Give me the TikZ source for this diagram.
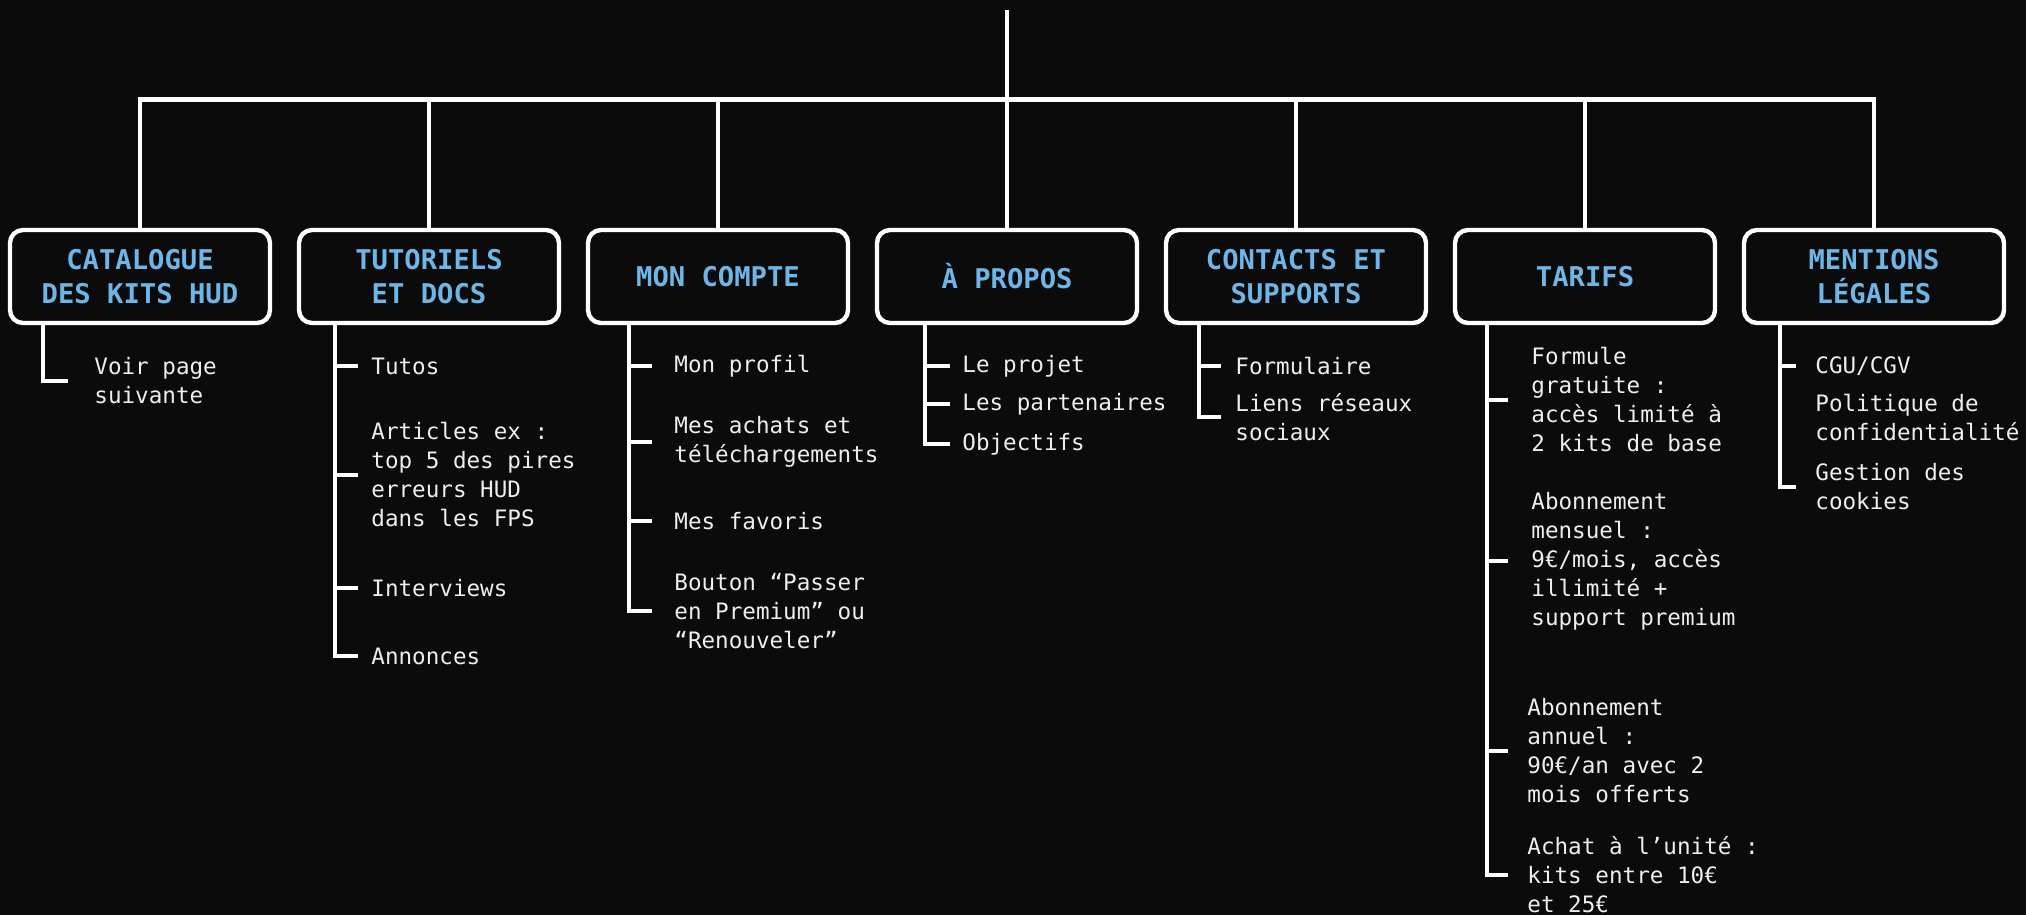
\documentclass[tikz,border=0pt]{standalone}
\usepackage{fontspec}
\setmonofont{DejaVu Sans Mono}
\usepackage{tikz}
\usetikzlibrary{positioning, calc}
\definecolor{bgdark}{RGB}{11,11,11}
\definecolor{headblue}{RGB}{110,182,232}
\definecolor{leafwhite}{RGB}{238,238,238}
\tikzstyle{head} = [draw=white, line width=2.2pt, rounded corners=6.5pt, fill=bgdark, minimum width=130pt, minimum height=46.5pt, align=center, text=headblue, font=\ttfamily\bfseries\fontsize{13.6}{17}\selectfont]
\tikzstyle{leaf} = [anchor=west, align=left, inner xsep=7pt, inner ysep=0pt, text=leafwhite, font=\ttfamily\fontsize{11.3}{14.5}\selectfont]
\tikzstyle{link} = [draw=white, line width=2.4pt]

\begin{document}
\begin{tikzpicture}[x=0.5pt, y=-0.5pt]
	\useasboundingbox (0,0) rectangle (2026,915);
	\fill[bgdark] (0,0) rectangle (2026,915);

	\coordinate (top)     at (1007, 10);
	\coordinate (bar)     at (1007, 99.5);
	\coordinate (cat-t)   at (43,   323);
	\coordinate (tut-t)   at (335,  323);
	\coordinate (cpt-t)   at (629,  323);
	\coordinate (apr-t)   at (925,  323);
	\coordinate (con-t)   at (1199, 323);
	\coordinate (tar-t)   at (1487, 323);
	\coordinate (leg-t)   at (1780, 323);

	% menu
	\node[head] (cat) at (140,  276.5) {CATALOGUE\\DES KITS HUD};
	\node[head] (tut) at (429,  276.5) {TUTORIELS\\ET DOCS};
	\node[head] (cpt) at (718,  276.5) {MON COMPTE};
	\node[head] (apr) at (1007, 276.5) {À PROPOS};
	\node[head] (con) at (1296, 276.5) {CONTACTS ET\\SUPPORTS};
	\node[head] (tar) at (1585, 276.5) {TARIFS};
	\node[head] (leg) at (1874, 276.5) {MENTIONS\\LÉGALES};

	\draw[link] (top) -- (bar);
	\draw[link] (cat.north) -- (cat.north |- bar) -- (leg.north |- bar) -- (leg.north);
	\foreach \n in {tut, cpt, apr, con, tar}
		\draw[link] (\n.north) -- (\n.north |- bar);

	% sous-pages
	\node[leaf, inner xsep=13pt] (voir) at (68, 381) {Voir page\\suivante};

	\node[leaf, inner xsep=6.5pt] (tutos) at (358, 366) {Tutos};
	\node[leaf, inner xsep=6.5pt] (art)   at (358, 475) {Articles ex :\\top 5 des pires\\erreurs HUD\\dans les FPS};
	\node[leaf, inner xsep=6.5pt] (itw)   at (358, 588) {Interviews};
	\node[leaf, inner xsep=6.5pt] (ann)   at (358, 656) {Annonces};

	\node[leaf, inner xsep=11pt] (prof)  at (652, 366) {Mon profil};
	\node[leaf, inner xsep=11pt] (achat) at (652, 442) {Mes achats et\\téléchargements};
	\node[leaf, inner xsep=11pt] (fav)   at (652, 521) {Mes favoris};
	\node[leaf, inner xsep=11pt] (btn)   at (652, 611) {Bouton “Passer\\en Premium” ou\\“Renouveler”};

	\node[leaf, inner xsep=6pt] (proj)  at (950, 366) {Le projet};
	\node[leaf, inner xsep=6pt] (part)  at (950, 404) {Les partenaires};
	\node[leaf, inner xsep=6pt] (obj)   at (950, 444) {Objectifs};

	\node[leaf] (form)  at (1221, 366) {Formulaire};
	\node[leaf] (liens) at (1221, 417) {Liens réseaux\\sociaux};

	\node[leaf, inner xsep=11.5pt] (grat)  at (1508, 400) {Formule\\gratuite :\\accès limité à\\2 kits de base};
	\node[leaf, inner xsep=11.5pt] (mens)  at (1508, 561) {Abonnement\\mensuel :\\9€/mois, accès\\illimité +\\support premium};
	\node[leaf, inner xsep=9.5pt]  (annu)  at (1508, 751) {Abonnement\\annuel :\\90€/an avec 2\\mois offerts};
	\node[leaf, inner xsep=9.5pt]  (unit)  at (1508, 875) {Achat à l’unité :\\kits entre 10€\\et 25€};

	\node[leaf, inner xsep=9.5pt] (cgu)   at (1796, 366) {CGU/CGV};
	\node[leaf, inner xsep=9.5pt] (poli)  at (1796, 418) {Politique de\\confidentialité};
	\node[leaf, inner xsep=9.5pt] (cook)  at (1796, 487) {Gestion des\\cookies};

	\draw[link] (cat-t) |- (voir.west);

	\draw[link] (tut-t) |- (ann.west);
	\draw[link] (tut-t |- tutos.west) -- (tutos.west);
	\draw[link] (tut-t |- art.west) -- (art.west);
	\draw[link] (tut-t |- itw.west) -- (itw.west);

	\draw[link] (cpt-t) |- (btn.west);
	\draw[link] (cpt-t |- prof.west) -- (prof.west);
	\draw[link] (cpt-t |- achat.west) -- (achat.west);
	\draw[link] (cpt-t |- fav.west) -- (fav.west);

	\draw[link] (apr-t) |- (obj.west);
	\draw[link] (apr-t |- proj.west) -- (proj.west);
	\draw[link] (apr-t |- part.west) -- (part.west);

	\draw[link] (con-t) |- (liens.west);
	\draw[link] (con-t |- form.west) -- (form.west);

	\draw[link] (tar-t) |- (unit.west);
	\draw[link] (tar-t |- grat.west) -- (grat.west);
	\draw[link] (tar-t |- mens.west) -- (mens.west);
	\draw[link] (tar-t |- annu.west) -- (annu.west);

	\draw[link] (leg-t) |- (cook.west);
	\draw[link] (leg-t |- cgu.west) -- (cgu.west);
	\draw[link] ($(poli.west)+(0,-15)$ -| leg-t) -- ($(poli.west)+(0,-15)$);
\end{tikzpicture}
\end{document}
